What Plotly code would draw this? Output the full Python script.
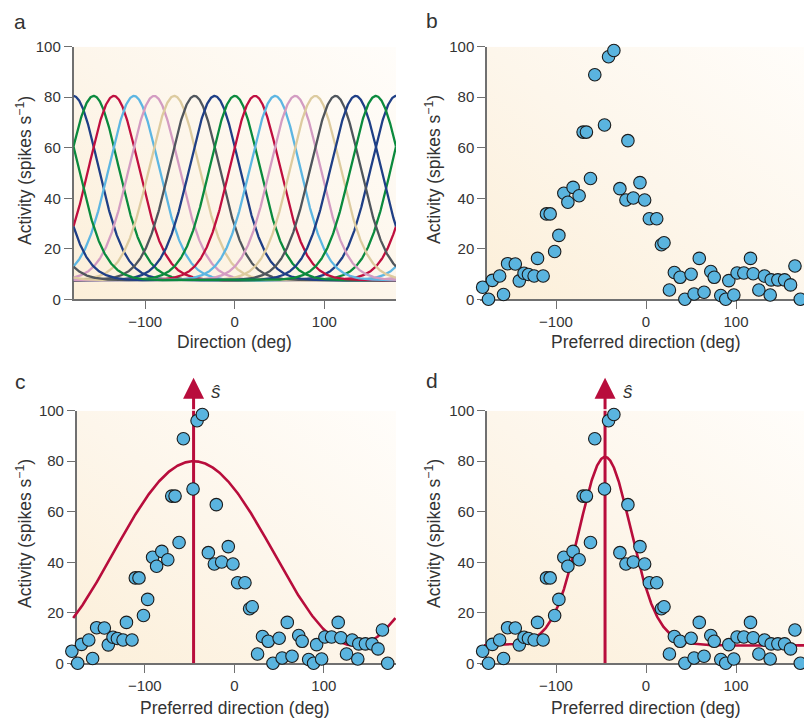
import base64
import numpy as np
import plotly.graph_objects as go

W, H = 804, 718

# ---------------- data ----------------
# Panel a: tuning curves (preferred directions, read from peaks)
pref_dirs = [-180, -157.5, -135, -112.5, -90, -67.5, -45, -22.5,
             0, 22.5, 45, 67.5, 90, 112.5, 135, 157.5]
NAVY, GREEN, RED, LBLUE, PINK, TAN, GRAY = ("#1f3f86", "#0b8a3e", "#bf0f3f",
                                            "#5db6e2", "#d39cc2", "#ddcb9f", "#50565d")
curve_colors = [NAVY, GREEN, RED, LBLUE, PINK, TAN, GRAY,
                NAVY, GREEN, RED, LBLUE, PINK, TAN, GRAY, NAVY, GREEN]
tc_peak = 80.5      # spikes/s at preferred direction
tc_base = 7.5       # baseline spikes/s
tc_kappa = 4.2      # tuning width (von Mises concentration)

# Panels b-d: population response (preferred direction, activity)
pref_direction = [-181.5, -175, -170.7, -162.6, -158.3, -153.8, -145.2, -140.8, -135.5,
                  -130.6, -124.3, -120.5, -114.3, -110.6, -106.5, -101.5, -96.8, -91.3,
                  -86.8, -81, -74.3, -69.9, -66.2, -61.7, -56.9, -46.1, -41.6, -35.7,
                  -29, -22.3, -20.1, -14.1, -6.7, -1.5, 3.7, 11.9, 17.1, 20, 26, 31.5,
                  37.9, 43.2, 50.1, 53.4, 59.2, 64.5, 72, 75.8, 83.1, 88.6, 92, 97.6,
                  101.2, 108.7, 116.1, 119.1, 125.4, 131.7, 138, 139.1, 146.5, 154,
                  160.6, 165.5, 171.4]
activity = [4.8, 0, 7.5, 9.2, 1.9, 14.1, 14.0, 7.3, 10.3,
            9.8, 9.2, 16.2, 9.2, 33.8, 33.8, 18.9, 25.3, 42.0,
            38.4, 44.3, 41.0, 66.2, 66.2, 47.8, 88.9, 69.0, 96.0, 98.5,
            43.8, 39.3, 62.8, 40.1, 46.2, 39.3, 31.9, 31.9, 21.6, 22.4, 3.7, 10.6,
            8.7, 0, 9.9, 2.1, 16.2, 2.8, 11.0, 8.7, 1.5, 0, 7.4, 1.7,
            10.4, 10.4, 16.2, 10.1, 3.7, 9.2, 1.7, 7.7, 7.7, 7.7,
            5.7, 13.2, 0]

# Estimated direction and fitted curves
s_hat = -45.5
cos_fit_peak, cos_fit_base = 80.0, 7.0          # panel c (cosine template)
vm_fit_peak, vm_fit_base, vm_fit_kappa = 81.7, 7.0, 4.0   # panel d

x_ticks = [-100, 0, 100]
y_ticks = [0, 20, 40, 60, 80, 100]

# ---------------- style ----------------
FONT = "Liberation Sans, Arial, sans-serif"
TXT = "#333333"
AX = "#707070"
FIT_RED = "#b80d3c"
DOT_FILL = "#5ab4df"

dirs = np.linspace(-180, 180, 721)


def vm(x, mu, peak, base, kappa):
    x = np.asarray(x, float)
    return base + (peak - base) * np.exp(kappa * (np.cos(np.radians(x - mu)) - 1))


fig = go.Figure()

# Panel a
for mu, col in zip(pref_dirs, curve_colors):
    fig.add_trace(go.Scatter(x=dirs, y=vm(dirs, mu, tc_peak, tc_base, tc_kappa),
                             mode="lines", line=dict(color=col, width=2.3),
                             xaxis="x", yaxis="y", hoverinfo="skip", showlegend=False))

marker = dict(size=12.5, color=DOT_FILL, line=dict(color="#1b1b1b", width=1.1))

# Panel b
fig.add_trace(go.Scatter(x=pref_direction, y=activity, mode="markers", marker=marker,
                         cliponaxis=False, xaxis="x2", yaxis="y2", showlegend=False))

# Panel c
cos_curve = cos_fit_base + (cos_fit_peak - cos_fit_base) * (1 + np.cos(np.radians(dirs - s_hat))) / 2
fig.add_trace(go.Scatter(x=dirs, y=cos_curve, mode="lines", line=dict(color=FIT_RED, width=2.6),
                         xaxis="x3", yaxis="y3", showlegend=False))
fig.add_trace(go.Scatter(x=[s_hat, s_hat], y=[0, 101], mode="lines",
                         line=dict(color=FIT_RED, width=3), cliponaxis=False,
                         xaxis="x3", yaxis="y3", showlegend=False))
fig.add_trace(go.Scatter(x=pref_direction, y=activity, mode="markers", marker=marker,
                         cliponaxis=False, xaxis="x3", yaxis="y3", showlegend=False))

# Panel d
fig.add_trace(go.Scatter(x=dirs, y=vm(dirs, s_hat, vm_fit_peak, vm_fit_base, vm_fit_kappa),
                         mode="lines", line=dict(color=FIT_RED, width=2.6),
                         xaxis="x4", yaxis="y4", showlegend=False))
fig.add_trace(go.Scatter(x=[s_hat, s_hat], y=[0, 101], mode="lines",
                         line=dict(color=FIT_RED, width=3), cliponaxis=False,
                         xaxis="x4", yaxis="y4", showlegend=False))
fig.add_trace(go.Scatter(x=pref_direction, y=activity, mode="markers", marker=marker,
                         cliponaxis=False, xaxis="x4", yaxis="y4", showlegend=False))


def px_x(p):
    return p / W


def px_y(p):
    return 1 - p / H


# domains (pixel measurements of the reference)
top_y = [px_y(299.3), px_y(46.7)]
bot_y = [px_y(663.3), px_y(410.7)]
dom_a = [px_x(73.5), px_x(396)]
# b/d: x=0 at px 646, 0.9 px/deg ; c: x=0 at px 234.3, 0.895 px/deg
dom_b = [px_x(480), px_x(804)]
rng_b = [(480 - 646) / 0.9, (804 - 646) / 0.9]
dom_c = [px_x(70), px_x(396)]
rng_c = [(70 - 234.3) / 0.895, (396 - 234.3) / 0.895]

axis_common = dict(showgrid=False, zeroline=False, showline=True, linecolor=AX, linewidth=1.5,
                   ticks="outside", ticklen=8, tickwidth=1.4, tickcolor=AX,
                   tickfont=dict(family=FONT, size=15, color=TXT), layer="below traces",
                   automargin=False, fixedrange=True)

fig.update_layout(
    width=W, height=H, margin=dict(l=0, r=0, t=0, b=0),
    paper_bgcolor="white", plot_bgcolor="rgba(0,0,0,0)",
    showlegend=False,
    xaxis=dict(domain=dom_a, range=[-180, 180], anchor="y", tickvals=x_ticks, **axis_common),
    yaxis=dict(domain=top_y, range=[0, 100], anchor="x", tickvals=y_ticks, **axis_common),
    xaxis2=dict(domain=dom_b, range=rng_b, anchor="y2", tickvals=x_ticks, **axis_common),
    yaxis2=dict(domain=top_y, range=[0, 100], anchor="free", position=px_x(486),
                tickvals=y_ticks, **axis_common),
    xaxis3=dict(domain=dom_c, range=rng_c, anchor="y3", tickvals=x_ticks, **axis_common),
    yaxis3=dict(domain=bot_y, range=[0, 100], anchor="free", position=px_x(75.7),
                tickvals=y_ticks, **axis_common),
    xaxis4=dict(domain=dom_b, range=rng_b, anchor="y4", tickvals=x_ticks, **axis_common),
    yaxis4=dict(domain=bot_y, range=[0, 100], anchor="free", position=px_x(486),
                tickvals=y_ticks, **axis_common),
)

# subtle gradient background for each panel (starting at the y-axis line)
svg = ('<svg xmlns="http://www.w3.org/2000/svg" width="200" height="200" viewBox="0 0 200 200" '
       'preserveAspectRatio="none"><defs><linearGradient id="g" x1="0" y1="1" x2="1" y2="0">'
       '<stop offset="0" stop-color="#fcefd9"/><stop offset="0.5" stop-color="#fdf6eb"/>'
       '<stop offset="1" stop-color="#fffdfa"/></linearGradient></defs>'
       '<rect width="200" height="200" fill="url(#g)"/></svg>')
src = "data:image/svg+xml;base64," + base64.b64encode(svg.encode()).decode()
images = []
for (x0, x1), (y0, y1) in [((73.5, 396), (46.7, 299.3)), ((486, 804), (46.7, 299.3)),
                           ((75.7, 396), (410.7, 663.3)), ((486, 804), (410.7, 663.3))]:
    images.append(dict(source=src, xref="paper", yref="paper", x=px_x(x0), y=px_y(y0),
                       sizex=(x1 - x0) / W, sizey=(y1 - y0) / H, xanchor="left", yanchor="top",
                       sizing="stretch", layer="below"))
fig.update_layout(images=images)

ann = []
title_font = dict(family=FONT, size=17.5, color=TXT)
# panel letters
for lab, x, y in [("a", 20, 21), ("b", 432, 20), ("c", 20, 381), ("d", 432, 380)]:
    ann.append(dict(text=lab, x=px_x(x), y=px_y(y), xref="paper", yref="paper",
                    showarrow=False, font=dict(family=FONT, size=21, color=TXT),
                    xanchor="center", yanchor="middle"))
# x-axis titles
for txt, x, y in [("Direction (deg)", 234.5, 342), ("Preferred direction (deg)", 646, 342),
                  ("Preferred direction (deg)", 234.5, 708), ("Preferred direction (deg)", 646, 708)]:
    ann.append(dict(text=txt, x=px_x(x), y=px_y(y), xref="paper", yref="paper",
                    showarrow=False, font=title_font, xanchor="center", yanchor="middle"))
# y-axis titles
ytitle = "Activity (spikes s<sup>\u22121</sup>)"
for x, y in [(24, 171), (433, 170), (24, 534), (433, 534)]:
    ann.append(dict(text=ytitle, x=px_x(x), y=px_y(y), xref="paper", yref="paper",
                    showarrow=False, font=title_font, textangle=-90,
                    xanchor="center", yanchor="middle"))
# arrowheads and s-hat labels
for xa, ya in [("x3", "y3"), ("x4", "y4")]:
    ann.append(dict(text="", x=s_hat, y=113, ax=s_hat, ay=100, xref=xa, yref=ya,
                    axref=xa, ayref=ya, showarrow=True, arrowhead=2, arrowsize=1.4,
                    arrowwidth=3, arrowcolor=FIT_RED, standoff=0, startstandoff=0))
    ann.append(dict(text="<i>\u015d</i>", x=s_hat + 25, y=px_y(391.5), xref=xa, yref="paper",
                    showarrow=False, font=dict(family=FONT, size=19, color=TXT),
                    xanchor="center", yanchor="middle"))
fig.update_layout(annotations=ann)

fig.write_html("out.html", config={"displayModeBar": False},
               post_script="document.body.style.margin='0';document.body.style.padding='0';")
